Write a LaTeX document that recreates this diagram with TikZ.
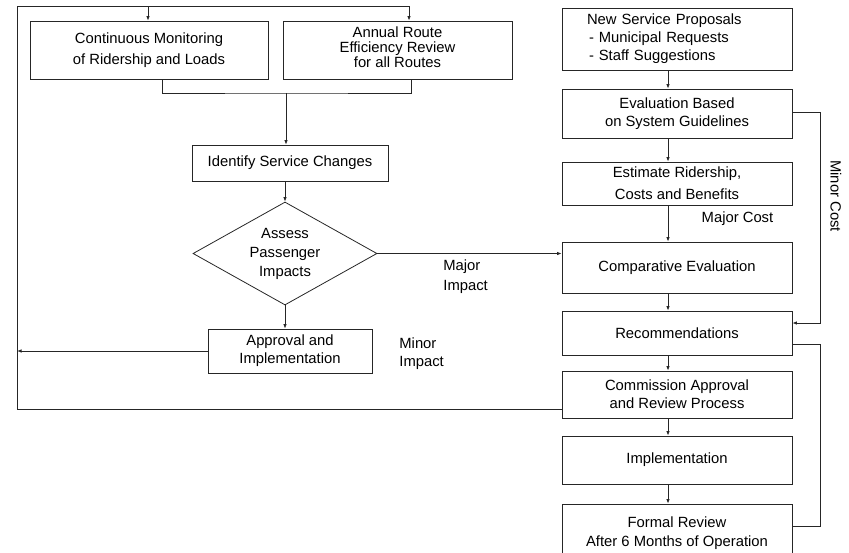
\documentclass[tikz,border=0pt]{standalone}
\usepackage{fontspec}
\setmainfont{Liberation Sans}
\usetikzlibrary{positioning, arrows.meta, shapes.geometric, calc}

\begin{document}
\begin{tikzpicture}[x=1pt, y=-1pt, line width=0.8pt, draw=black!85,
	box/.style={draw, rectangle, align=center, inner sep=0pt, font=\fontsize{14.8}{18}\selectfont},
	rightbox/.style={box, minimum width=230pt},
	decision/.style={draw, diamond, aspect=1.79, minimum width=184pt, minimum height=103pt,
		inner sep=0pt, align=center, font=\fontsize{14.8}{18}\selectfont},
	note/.style={inner sep=0pt, font=\fontsize{14.8}{18}\selectfont},
	arr/.style={-{Latex[length=4.5pt,width=3.5pt]}}]
		
		\useasboundingbox (0,0) rectangle (849,552);
		
		%Left column
		\node (monitoring) at(149,50) [box, minimum width=238pt, minimum height=58pt]{Continuous Monitoring\\[3.5pt]of Ridership and Loads};
		\node (annual) at(397.5,50) [box, minimum width=229pt, minimum height=58pt, text depth=6pt]{Annual Route\\[-3pt]Efficiency Review\\[-3pt]for all Routes};
		\node (identify) at(290,163) [box, minimum width=196pt, minimum height=36pt]{Identify Service Changes};
		\node (assess) at(285,253.5) [decision]{Assess\\[1pt]Passenger\\[1pt]Impacts};
		\node (approval) at(290,351) [box, minimum width=164pt, minimum height=44pt]{Approval and\\Implementation};
		
		%Right column
		\node (proposals) at(677,39) [rightbox, minimum height=62pt, text width=180pt, align=left]{New Service Proposals\\\hspace*{2pt}- Municipal Requests\\\hspace*{2pt}- Staff Suggestions};
		\node (guidelines) at(677,113.5) [rightbox, minimum height=49pt]{Evaluation Based\\on System Guidelines};
		\node (estimate) at(677,183.5) [rightbox, minimum height=43pt]{Estimate Ridership,\\[4pt]Costs and Benefits};
		\node (comparative) at(677,267.5) [rightbox, minimum height=51pt]{Comparative Evaluation};
		\node (recommend) at(677,333) [rightbox, minimum height=44pt]{Recommendations};
		\node (commission) at(677,394.5) [rightbox, minimum height=47pt]{Commission Approval\\and Review Process};
		\node (implement) at(677,460) [rightbox, minimum height=48pt]{Implementation};
		\node (formal) at(677,534) [rightbox, minimum height=60pt, text depth=4pt]{Formal Review\\[1pt]After 6 Months of Operation};
		
		%Labels
		\node (majorImpact) at(443,277) [note, anchor=west, align=left]{Major\\[2pt]Impact};
		\node (minorImpact) at(399,354) [note, anchor=west, align=left]{Minor\\Impact};
		\node (majorCost) at(737.5,219) [note]{Major Cost};
		\node (minorCost) at(836,196) [note, rotate=-90]{Minor Cost};
		
		%Feedback loop
		\coordinate (topLeft) at(17,6);
		\coordinate (bottomLeft) at(17,409);
		\draw (bottomLeft -| commission.west) -- (bottomLeft) -- (topLeft) -- ([xshift=11.5pt]topLeft -| annual.north);
		\draw[arr] ([xshift=-1pt]topLeft -| monitoring.north) -- ([xshift=-1pt]monitoring.north);
		\draw[arr] ([xshift=11.5pt]topLeft -| annual.north) -- ([xshift=11.5pt]annual.north);
		
		%Merge
		\coordinate (merge) at(286,93);
		\draw ([xshift=13pt]monitoring.south) |- (merge) -| ([xshift=14pt]annual.south);
		\draw[arr] (merge) -- (merge |- identify.north);
		\draw[arr] (identify.south -| assess.north) -- (assess.north);
		\draw[arr] (assess.south) -- (assess.south |- approval.north);
		\draw[arr] (approval.west) -- (approval.west -| bottomLeft);
		\draw[arr] (assess.east) -- (assess.east -| comparative.west);
		
		%Main sequence
		\foreach \a/\b in {proposals/guidelines, guidelines/estimate, estimate/comparative,
			comparative/recommend, recommend/commission, commission/implement, implement/formal}
			\draw[arr] ([xshift=-9pt]\a.south) -- ([xshift=-9pt]\b.north);
		
		%Side loops
		\draw[arr] ([yshift=1.5pt]guidelines.east) -- ++(28,0) |- ([yshift=10pt]recommend.east);
		\draw ([yshift=-11pt]recommend.east) -- ++(28,0) |- ([yshift=8pt]formal.east);
		
\end{tikzpicture}
\end{document}
